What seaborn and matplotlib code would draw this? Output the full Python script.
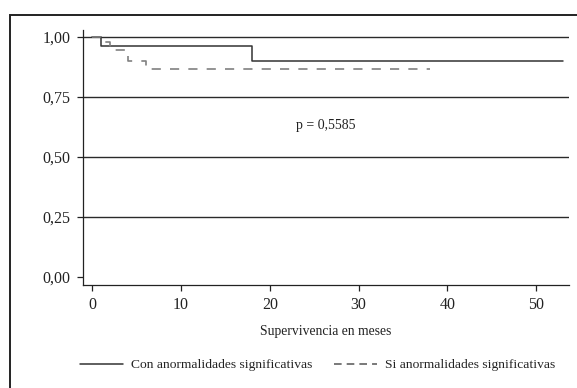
import matplotlib
matplotlib.use("Agg")
import matplotlib.pyplot as plt
import numpy as np
import pandas as pd
import seaborn as sns
from matplotlib.patches import Rectangle

# Kaplan-Meier steps
con_meses = [0, 1, 18, 53]
con_superv = [1.0, 0.9625, 0.898, 0.898]
sin_meses = [0, 1, 2, 4, 6, 38]
sin_superv = [1.0, 0.978, 0.945, 0.90, 0.866, 0.866]

y_ticks = [0.0, 0.25, 0.5, 0.75, 1.0]
y_labels = ["0,00", "0,25", "0,50", "0,75", "1,00"]
x_ticks = [0, 10, 20, 30, 40, 50]
p_text = "p = 0,5585"

sns.set_theme(style="white")
plt.rcParams["font.family"] = ["Liberation Serif", "DejaVu Serif"]

fig = plt.figure(figsize=(5.77, 3.88), dpi=100)
ax = fig.add_axes([0.1433, 0.2655, 0.986 - 0.1433, 0.9227 - 0.2655])

# horizontal reference lines
for yv in [0.25, 0.5, 0.75, 1.0]:
    ax.axhline(yv, color="#2a2a2a", lw=1.0, zorder=1)

df_con = pd.DataFrame({"meses": con_meses, "superv": con_superv})
df_sin = pd.DataFrame({"meses": sin_meses, "superv": sin_superv})

sns.lineplot(data=df_con, x="meses", y="superv", ax=ax, drawstyle="steps-post",
             color="#333333", lw=1.1, sort=False, estimator=None, zorder=3)
sns.lineplot(data=df_sin, x="meses", y="superv", ax=ax, drawstyle="steps-post",
             color="#808080", lw=1.2, sort=False, estimator=None, zorder=3,
             dashes=False, linestyle=(0, (5.5, 5.5)))

ax.text(26.3, 0.63, p_text, ha="center", va="center", fontsize=10, color="#222222")

ax.set_xlim(-1.09, 53.7)
ax.set_ylim(-0.035, 1.029)
ax.set_xticks(x_ticks)
ax.set_xticklabels([str(v) for v in x_ticks])
ax.set_yticks(y_ticks)
ax.set_yticklabels(y_labels)
ax.tick_params(axis="both", direction="out", length=4, width=0.9, colors="#222222",
               labelsize=11.5, pad=5, left=True, bottom=True)
ax.set_xlabel("Supervivencia en meses", fontsize=9.8, color="#222222", labelpad=8)
ax.set_ylabel("")

for side in ["top", "right"]:
    ax.spines[side].set_visible(False)
for side in ["left", "bottom"]:
    ax.spines[side].set_color("#222222")
    ax.spines[side].set_linewidth(0.9)

# legend at the bottom
h1, = ax.plot([], [], color="#333333", lw=1.1)
h2, = ax.plot([], [], color="#555555", lw=1.1, linestyle=(0, (5, 3.3)))
fig.legend([h1, h2], ["Con anormalidades significativas", "Si anormalidades significativas"],
           loc="center", bbox_to_anchor=(0.55, 0.059), ncol=2, frameon=False,
           fontsize=9.7, handlelength=3.2, columnspacing=1.6, handletextpad=0.6,
           labelcolor="#222222")

# outer frame
fig.patches.append(Rectangle((10 / 577, -0.1), 1.2, (388 - 15) / 388 + 0.1,
                             transform=fig.transFigure, fill=False,
                             edgecolor="#222222", lw=1.4))

fig.savefig("out.png", dpi=100)
